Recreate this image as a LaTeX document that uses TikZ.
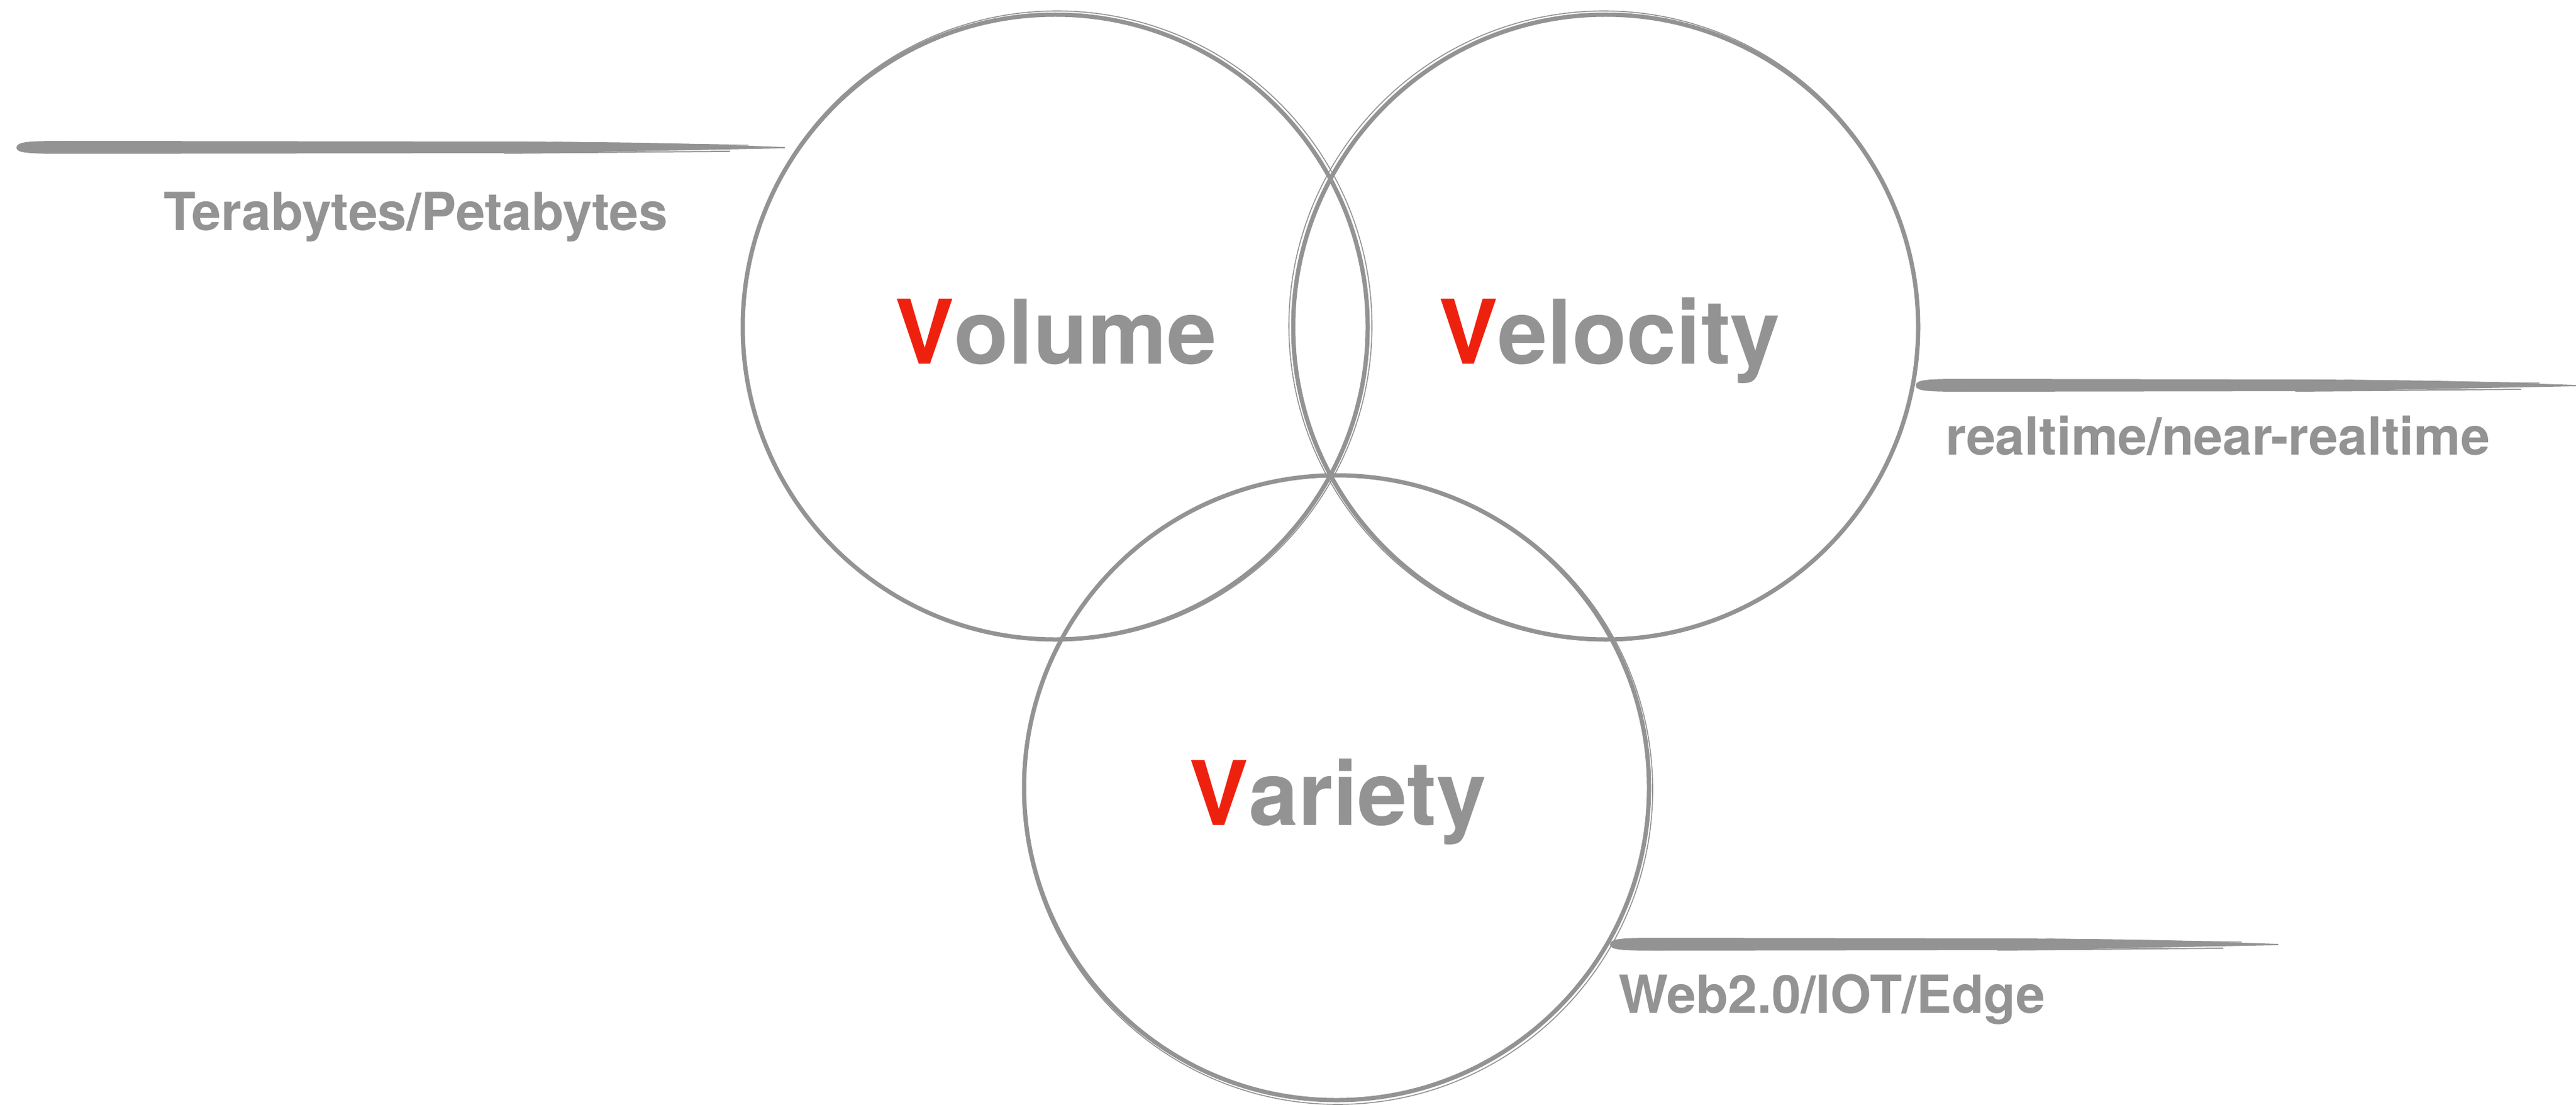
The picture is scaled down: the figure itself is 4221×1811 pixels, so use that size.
\documentclass[tikz,border=0pt]{standalone}
\usepackage{fontspec}
\setmainfont{TeX Gyre Heros}
\definecolor{sg}{RGB}{147,147,147}
\definecolor{vr}{RGB}{238,33,15}
\newcommand\brushstroke[3]{%
  \fill[sg] (#1,#3) .. controls (#1,#3-10) and (#1+20,#3-11) .. (#1+80,#3-11)
    -- (#2-420,#3-10) .. controls (#2-200,#3-8) .. (#2,#3-1) -- (#2,#3+1)
    .. controls (#2-200,#3+5) .. (#2-420,#3+9) -- (#1+80,#3+10)
    .. controls (#1+20,#3+10) and (#1,#3+9) .. (#1,#3) -- cycle;
  \draw[sg, line width=2pt] (#2-460,#3+9) -- (#2-90,#3+6);
  \draw[sg, line width=1.5pt] (#2-380,#3-9) -- (#2-60,#3-4);
}
\begin{document}
\begin{tikzpicture}[x=1pt,y=-1pt,
  ring/.style={circle, draw=sg, line width=7pt, minimum size=1024pt, inner sep=0pt},
  ringsketch/.style={draw=sg, line width=1.6pt},
  big/.style={font=\fontsize{146}{160}\selectfont\bfseries, text=sg, inner sep=0pt, anchor=base},
  small/.style={font=\fontsize{86}{96}\selectfont\bfseries, text=sg, inner sep=0pt, anchor=base west}]
\useasboundingbox (0,0) rectangle (4221,1811);
% circles
\node[ring] (vol) at (1729,536) {};
\node[ring] (vel) at (2631,536) {};
\node[ring] (var) at (2190,1291) {};
\draw[ringsketch] ([shift={(3pt,2pt)}]vol.center) circle[radius=516pt];
\draw[ringsketch] ([shift={(-3pt,2pt)}]vel.center) circle[radius=516pt];
\draw[ringsketch] ([shift={(2pt,-3pt)}]var.center) circle[radius=516pt];
% main labels
\node[big] (tvol) at (1730,596) {\textcolor{vr}{V}olume};
\node[big] (tvel) at (2637,596) {\textcolor{vr}{V}elocity};
\node[big] (tvar) at (2192,1352) {\textcolor{vr}{V}ariety};
% brush strokes
\brushstroke{27}{1286}{242}
\brushstroke{3139}{4221}{632}
\brushstroke{2638}{3733}{1548}
% side labels
\node[small] (ttera) at (268,377) {Terabytes/Petabytes};
\node[small] (treal) at (3188,745) {realtime/near-realtime};
\node[small] (tweb) at (2652,1660) {Web2.0/IOT/Edge};
\end{tikzpicture}
\end{document}
